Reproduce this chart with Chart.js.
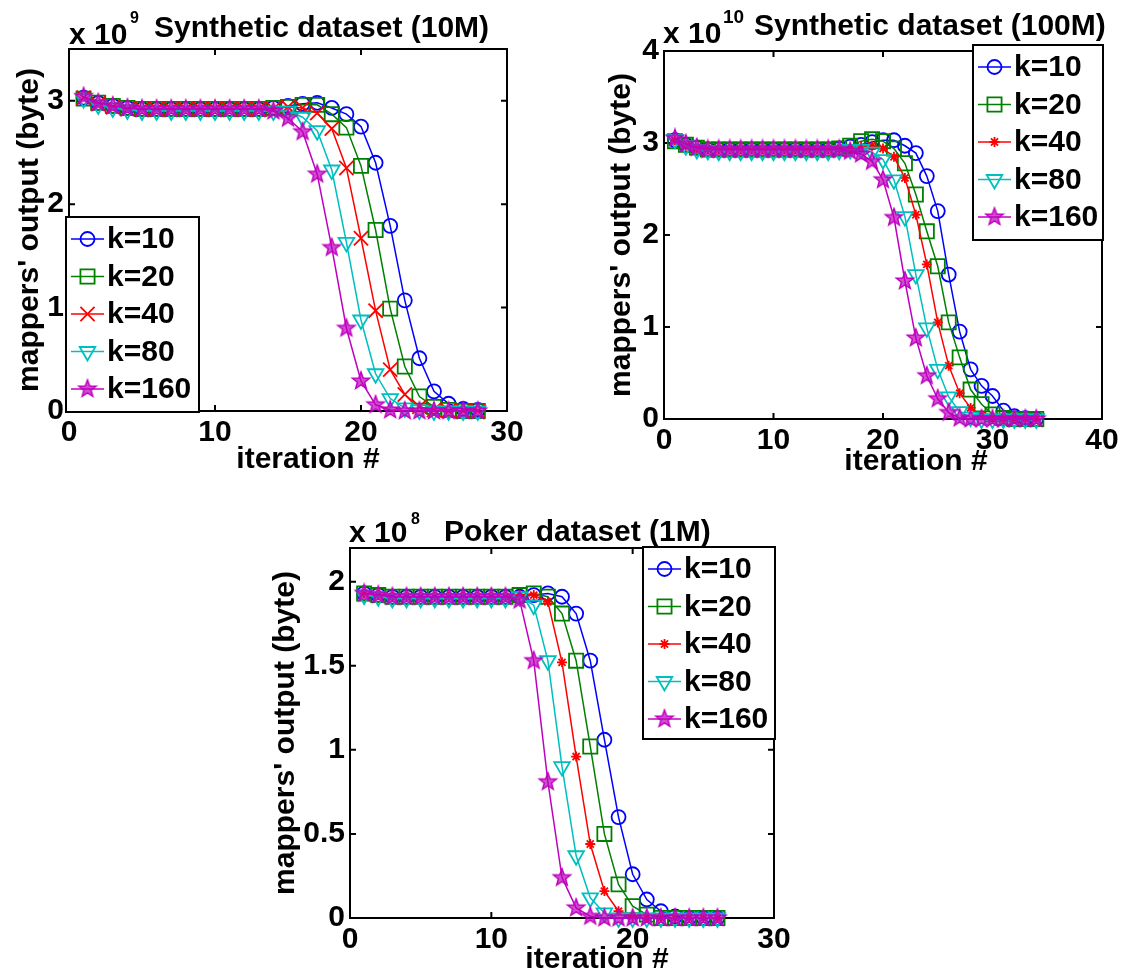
<!DOCTYPE html>
<html>
<head>
<meta charset="utf-8">
<title>mappers' output per iteration</title>
<script src="https://cdn.jsdelivr.net/npm/chart.js@4.4.1/dist/chart.umd.min.js"></script>
<style>
  html, body { margin: 0; padding: 0; background: #fff; }
  body { position: relative; width: 1122px; height: 970px; overflow: hidden; }
  canvas { position: absolute; }
  #chart10M { left: 0; top: 0; }
  #chart100M { left: 590px; top: 0; }
  #chartPoker { left: 260px; top: 495px; }
</style>
</head>
<body>
<canvas id="chart10M" width="560" height="480"></canvas>
<canvas id="chart100M" width="532" height="480"></canvas>
<canvas id="chartPoker" width="560" height="475"></canvas>
<script>
// Shared labels
const kLabels = ['k=10', 'k=20', 'k=40', 'k=80', 'k=160'];

// Synthetic dataset (10M), values in 10^9 bytes
const iter10M = [1, 2, 3, 4, 5, 6, 7, 8, 9, 10, 11, 12, 13, 14, 15, 16, 17, 18, 19, 20, 21, 22, 23, 24, 25, 26, 27, 28];
const out10M_k10 = [3.03, 2.98, 2.95, 2.93, 2.92, 2.92, 2.92, 2.92, 2.92, 2.92, 2.92, 2.92, 2.92, 2.93, 2.95, 2.97, 2.98, 2.93, 2.87, 2.75, 2.40, 1.79, 1.07, 0.51, 0.19, 0.07, 0.02, 0.01];
const out10M_k20 = [3.02, 2.98, 2.95, 2.93, 2.92, 2.92, 2.92, 2.92, 2.92, 2.92, 2.92, 2.92, 2.92, 2.93, 2.94, 2.96, 2.96, 2.87, 2.74, 2.37, 1.75, 0.99, 0.43, 0.14, 0.04, 0.01, 0, 0];
const out10M_k40 = [3.03, 2.97, 2.94, 2.92, 2.92, 2.92, 2.92, 2.92, 2.92, 2.92, 2.92, 2.92, 2.92, 2.92, 2.94, 2.93, 2.88, 2.73, 2.35, 1.67, 0.97, 0.40, 0.16, 0.04, 0.01, 0, 0, 0];
const out10M_k80 = [3.02, 2.96, 2.93, 2.91, 2.90, 2.90, 2.90, 2.90, 2.90, 2.90, 2.90, 2.90, 2.90, 2.90, 2.90, 2.84, 2.71, 2.33, 1.63, 0.88, 0.36, 0.12, 0.03, 0.01, 0, 0, 0, 0];
const out10M_k160 = [3.04, 2.98, 2.95, 2.93, 2.92, 2.92, 2.92, 2.92, 2.92, 2.92, 2.92, 2.92, 2.92, 2.90, 2.83, 2.70, 2.29, 1.58, 0.80, 0.29, 0.06, 0.01, 0, 0, 0, 0, 0, 0];
const xTicks10M = [0, 10, 20, 30];
const yTicks10M = [0, 1, 2, 3];

// Synthetic dataset (100M), values in 10^10 bytes
const iter100M = [1, 2, 3, 4, 5, 6, 7, 8, 9, 10, 11, 12, 13, 14, 15, 16, 17, 18, 19, 20, 21, 22, 23, 24, 25, 26, 27, 28, 29, 30, 31, 32, 33, 34];
const out100M_k10 = [3.03, 2.98, 2.95, 2.93, 2.93, 2.93, 2.93, 2.93, 2.93, 2.93, 2.93, 2.93, 2.93, 2.93, 2.93, 2.94, 2.96, 2.98, 3.01, 3.03, 3.03, 2.97, 2.89, 2.64, 2.26, 1.57, 0.95, 0.54, 0.36, 0.25, 0.09, 0.03, 0.01, 0];
const out100M_k20 = [3.02, 2.98, 2.95, 2.93, 2.93, 2.93, 2.93, 2.93, 2.93, 2.93, 2.93, 2.93, 2.93, 2.93, 2.93, 2.94, 2.97, 3.02, 3.04, 3.02, 2.94, 2.78, 2.44, 2.04, 1.66, 1.05, 0.67, 0.32, 0.16, 0.05, 0.01, 0, 0, 0];
const out100M_k40 = [3.03, 2.97, 2.94, 2.93, 2.93, 2.93, 2.93, 2.93, 2.93, 2.93, 2.93, 2.93, 2.93, 2.93, 2.93, 2.93, 2.94, 2.96, 2.97, 2.94, 2.85, 2.62, 2.22, 1.68, 1.05, 0.58, 0.28, 0.12, 0.04, 0.01, 0, 0, 0, 0];
const out100M_k80 = [3.04, 2.97, 2.93, 2.92, 2.91, 2.91, 2.91, 2.91, 2.91, 2.91, 2.91, 2.91, 2.91, 2.91, 2.91, 2.92, 2.93, 2.93, 2.90, 2.82, 2.60, 2.20, 1.57, 0.99, 0.54, 0.24, 0.08, 0.02, 0, 0, 0, 0, 0, 0];
const out100M_k160 = [3.05, 2.99, 2.95, 2.93, 2.93, 2.93, 2.93, 2.93, 2.93, 2.93, 2.93, 2.93, 2.93, 2.93, 2.93, 2.93, 2.91, 2.88, 2.80, 2.60, 2.19, 1.50, 0.88, 0.47, 0.22, 0.07, 0.01, 0, 0, 0, 0, 0, 0, 0];
const xTicks100M = [0, 10, 20, 30, 40];
const yTicks100M = [0, 1, 2, 3, 4];

// Poker dataset (1M), values in 10^8 bytes
const iterPoker = [1, 2, 3, 4, 5, 6, 7, 8, 9, 10, 11, 12, 13, 14, 15, 16, 17, 18, 19, 20, 21, 22, 23, 24, 25, 26];
const outPoker_k10 = [1.93, 1.92, 1.91, 1.91, 1.91, 1.91, 1.91, 1.91, 1.91, 1.91, 1.91, 1.91, 1.92, 1.93, 1.91, 1.81, 1.53, 1.06, 0.60, 0.26, 0.11, 0.04, 0.01, 0, 0, 0];
const outPoker_k20 = [1.93, 1.92, 1.91, 1.91, 1.91, 1.91, 1.91, 1.91, 1.91, 1.91, 1.91, 1.92, 1.93, 1.91, 1.81, 1.53, 1.02, 0.50, 0.20, 0.07, 0.02, 0, 0, 0, 0, 0];
const outPoker_k40 = [1.93, 1.92, 1.91, 1.91, 1.91, 1.91, 1.91, 1.91, 1.91, 1.91, 1.91, 1.92, 1.92, 1.88, 1.52, 0.96, 0.44, 0.16, 0.04, 0.01, 0, 0, 0, 0, 0, 0];
const outPoker_k80 = [1.92, 1.91, 1.90, 1.90, 1.90, 1.90, 1.90, 1.90, 1.90, 1.90, 1.90, 1.91, 1.86, 1.53, 0.90, 0.37, 0.12, 0.03, 0, 0, 0, 0, 0, 0, 0, 0];
const outPoker_k160 = [1.93, 1.92, 1.91, 1.91, 1.91, 1.91, 1.91, 1.91, 1.91, 1.91, 1.91, 1.89, 1.53, 0.81, 0.24, 0.06, 0.01, 0, 0, 0, 0, 0, 0, 0, 0, 0];
const xTicksPoker = [0, 10, 20, 30];
const yTicksPoker = [0, 0.5, 1, 1.5, 2];

const FONT = "'Liberation Sans', Arial, Helvetica, sans-serif";

// MATLAB style pentagram marker, drawn once on a small canvas
function makePentagram(color, fill, r) {
    const size = Math.ceil(r * 2 + 4);
    const c = document.createElement('canvas');
    c.width = size;
    c.height = size;
    const g = c.getContext('2d');
    g.translate(size / 2, size / 2);
    g.beginPath();
    for (let i = 0; i < 10; i++) {
        const rad = i % 2 ? r * 0.42 : r;
        const ang = -Math.PI / 2 + i * Math.PI / 5;
        g.lineTo(rad * Math.cos(ang), rad * Math.sin(ang));
    }
    g.closePath();
    g.fillStyle = fill;
    g.fill();
    g.strokeStyle = color;
    g.lineWidth = 1.5;
    g.stroke();
    return c;
}

const pentagram = makePentagram('#bf00bf', 'rgba(191, 0, 191, 0.7)', 9);

// Marker look per k, same order as kLabels
const markerStyles = [
    { color: '#0000ff', pointStyle: 'circle', radius: 7, rotation: 0 },
    { color: '#008000', pointStyle: 'rect', radius: 10, rotation: 0 },
    { color: '#ff0000', pointStyle: 'crossRot', radius: 10, rotation: 0 },
    { color: '#00bfbf', pointStyle: 'triangle', radius: 9, rotation: 180 },
    { color: '#bf00bf', pointStyle: pentagram, radius: 9, rotation: 0 }
];

function buildDatasets(iters, series, redMarker) {
    return series.map((values, i) => {
        const st = Object.assign({}, markerStyles[i], i === 2 && redMarker ? redMarker : {});
        return {
            label: kLabels[i],
            data: values.map((v, j) => ({ x: iters[j], y: v })),
            borderColor: st.color,
            borderWidth: 1.5,
            pointStyle: st.pointStyle,
            pointRadius: st.radius,
            pointRotation: st.rotation,
            pointBorderColor: st.color,
            pointBackgroundColor: 'rgba(0,0,0,0)',
            pointBorderWidth: 1.8,
            tension: 0,
            clip: false,
            order: series.length - i
        };
    });
}

// Box around the axes with inward ticks on all four sides
const axesBoxPlugin = {
    id: 'axesBox',
    beforeDatasetsDraw(chart) {
        const { ctx, chartArea: a, scales } = chart;
        const len = 6;
        ctx.save();
        ctx.strokeStyle = '#000';
        ctx.lineWidth = 2;
        ctx.beginPath();
        scales.x.ticks.forEach(t => {
            const px = scales.x.getPixelForValue(t.value);
            ctx.moveTo(px, a.bottom);
            ctx.lineTo(px, a.bottom - len);
            ctx.moveTo(px, a.top);
            ctx.lineTo(px, a.top + len);
        });
        scales.y.ticks.forEach(t => {
            const py = scales.y.getPixelForValue(t.value);
            ctx.moveTo(a.left, py);
            ctx.lineTo(a.left + len, py);
            ctx.moveTo(a.right, py);
            ctx.lineTo(a.right - len, py);
        });
        ctx.stroke();
        ctx.strokeRect(a.left, a.top, a.right - a.left, a.bottom - a.top);
        ctx.restore();
    }
};

// Title, exponent and axis labels
function makeTextPlugin(items) {
    return {
        id: 'axisTexts',
        afterDraw(chart) {
            const ctx = chart.ctx;
            ctx.save();
            ctx.fillStyle = '#000';
            items.forEach(it => {
                ctx.save();
                ctx.font = `bold ${it.size}px ${FONT}`;
                ctx.textAlign = it.align || 'left';
                ctx.textBaseline = it.baseline || 'alphabetic';
                ctx.translate(it.x, it.y);
                if (it.rotate) ctx.rotate(-Math.PI / 2);
                ctx.fillText(it.text, 0, 0);
                ctx.restore();
            });
            ctx.restore();
        }
    };
}

// Boxed legend with line sample and marker, like MATLAB's legend
function makeLegendPlugin(box) {
    return {
        id: 'boxLegend',
        afterDraw(chart) {
            const ctx = chart.ctx;
            const rowTop = 22;
            const rowGap = 37.5;
            ctx.save();
            ctx.fillStyle = '#fff';
            ctx.fillRect(box.x, box.y, box.w, box.h);
            ctx.strokeStyle = '#000';
            ctx.lineWidth = 2;
            ctx.strokeRect(box.x, box.y, box.w, box.h);
            chart.data.datasets.forEach((ds, i) => {
                const cy = box.y + rowTop + i * rowGap;
                const x0 = box.x + 5;
                const x1 = box.x + 38;
                ctx.strokeStyle = ds.borderColor;
                ctx.lineWidth = 1.5;
                ctx.beginPath();
                ctx.moveTo(x0, cy);
                ctx.lineTo(x1, cy);
                ctx.stroke();
                ctx.fillStyle = 'rgba(0,0,0,0)';
                ctx.lineWidth = ds.pointBorderWidth;
                Chart.helpers.drawPoint(ctx, {
                    pointStyle: ds.pointStyle,
                    rotation: ds.pointRotation,
                    radius: ds.pointRadius,
                    borderWidth: ds.pointBorderWidth
                }, (x0 + x1) / 2, cy);
                ctx.fillStyle = '#000';
                ctx.font = `bold 30px ${FONT}`;
                ctx.textAlign = 'left';
                ctx.textBaseline = 'middle';
                ctx.fillText(ds.label, box.x + 41, cy + 1);
            });
            ctx.restore();
        }
    };
}

function makeChart(id, cfg) {
    const canvas = document.getElementById(id);
    const f = cfg.frame;
    const tickFont = { family: FONT, size: 30, weight: 'bold' };
    return new Chart(canvas, {
        type: 'line',
        data: { datasets: buildDatasets(cfg.iters, cfg.series, cfg.redMarker) },
        options: {
            responsive: false,
            animation: false,
            events: [],
            layout: { padding: { left: 0, top: f.top, right: canvas.width - f.right, bottom: 0 } },
            scales: {
                x: {
                    type: 'linear',
                    min: cfg.xTicks[0],
                    max: cfg.xTicks[cfg.xTicks.length - 1],
                    afterBuildTicks: s => { s.ticks = cfg.xTicks.map(v => ({ value: v })); },
                    afterFit: s => { s.height = canvas.height - f.bottom; s.paddingLeft = 0; s.paddingRight = 0; },
                    grid: { display: false, drawTicks: false },
                    border: { display: false },
                    ticks: { font: tickFont, color: '#000', padding: 4, maxRotation: 0, autoSkip: false, callback: v => String(v) }
                },
                y: {
                    type: 'linear',
                    min: 0,
                    max: cfg.yMax,
                    afterBuildTicks: s => { s.ticks = cfg.yTicks.map(v => ({ value: v })); },
                    afterFit: s => { s.width = f.left; s.paddingTop = 0; s.paddingBottom = 0; },
                    grid: { display: false, drawTicks: false },
                    border: { display: false },
                    ticks: { font: tickFont, color: '#000', padding: 5, autoSkip: false, callback: v => String(v) }
                }
            },
            plugins: {
                legend: { display: false },
                tooltip: { enabled: false }
            }
        },
        plugins: [axesBoxPlugin, makeTextPlugin(cfg.texts), makeLegendPlugin(cfg.legend)]
    });
}

const yLabel = "mappers' output (byte)";
const xLabel = 'iteration #';

makeChart('chart10M', {
    iters: iter10M,
    series: [out10M_k10, out10M_k20, out10M_k40, out10M_k80, out10M_k160],
    xTicks: xTicks10M,
    yTicks: yTicks10M,
    yMax: 3.5,
    frame: { left: 69, top: 49, right: 507, bottom: 411 },
    legend: { x: 66, y: 217, w: 133, h: 195 },
    texts: [
        { text: 'x 10', x: 69, y: 44, size: 30 },
        { text: '9', x: 130, y: 23, size: 16 },
        { text: 'Synthetic dataset (10M)', x: 154, y: 37, size: 30 },
        { text: yLabel, x: 30, y: 230, size: 30, align: 'center', baseline: 'middle', rotate: true },
        { text: xLabel, x: 308, y: 468, size: 30, align: 'center' }
    ]
});

makeChart('chart100M', {
    iters: iter100M,
    series: [out100M_k10, out100M_k20, out100M_k40, out100M_k80, out100M_k160],
    redMarker: { pointStyle: 'star', radius: 5 },
    xTicks: xTicks100M,
    yTicks: yTicks100M,
    yMax: 4,
    frame: { left: 74, top: 51, right: 512, bottom: 419 },
    legend: { x: 383, y: 45, w: 130, h: 195 },
    texts: [
        { text: 'x 10', x: 73, y: 43, size: 30 },
        { text: '10', x: 133, y: 23, size: 19 },
        { text: 'Synthetic dataset (100M)', x: 164, y: 35, size: 30 },
        { text: yLabel, x: 32, y: 235, size: 30, align: 'center', baseline: 'middle', rotate: true },
        { text: xLabel, x: 326, y: 470, size: 30, align: 'center' }
    ]
});

makeChart('chartPoker', {
    iters: iterPoker,
    series: [outPoker_k10, outPoker_k20, outPoker_k40, outPoker_k80, outPoker_k160],
    redMarker: { pointStyle: 'star', radius: 5 },
    xTicks: xTicksPoker,
    yTicks: yTicksPoker,
    yMax: 2.2,
    frame: { left: 90, top: 53, right: 514, bottom: 423 },
    legend: { x: 383, y: 52, w: 132, h: 192 },
    texts: [
        { text: 'x 10', x: 89, y: 47, size: 30 },
        { text: '8', x: 151, y: 29, size: 16 },
        { text: 'Poker dataset (1M)', x: 184, y: 46, size: 30 },
        { text: yLabel, x: 26, y: 238, size: 30, align: 'center', baseline: 'middle', rotate: true },
        { text: xLabel, x: 337, y: 473, size: 30, align: 'center' }
    ]
});
</script>
</body>
</html>
